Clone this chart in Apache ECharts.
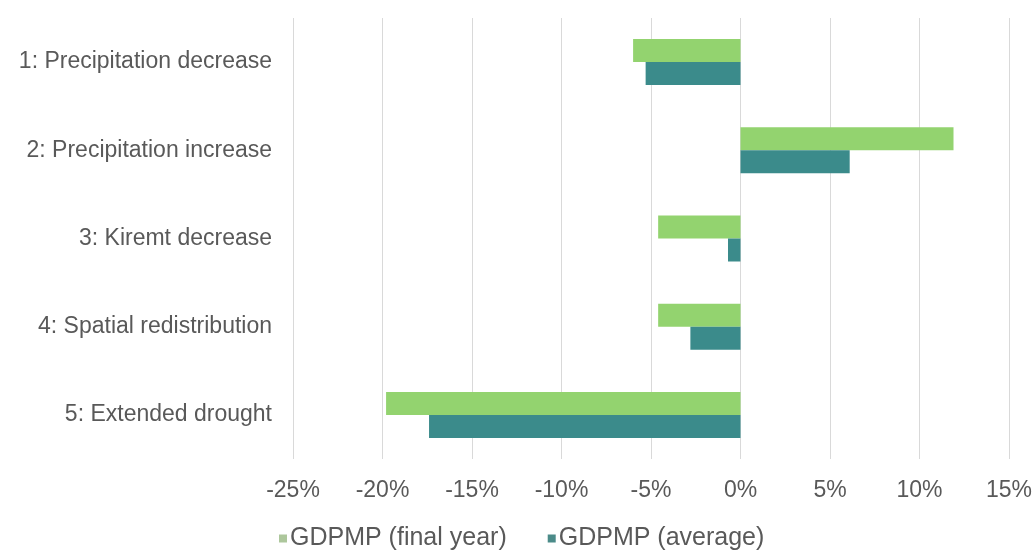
<!DOCTYPE html>
<html>
<head>
<meta charset="utf-8">
<script src="https://cdn.jsdelivr.net/npm/echarts@6/dist/echarts.min.js"></script>
<style>
  html, body { margin: 0; padding: 0; background: #ffffff; }
  #chart { width: 1036px; height: 550px; }
</style>
</head>
<body>
<div id="chart"></div>
<script>
// Scenario names, listed top to bottom
const scenarios = [
  '1: Precipitation decrease',
  '2: Precipitation increase',
  '3: Kiremt decrease',
  '4: Spatial redistribution',
  '5: Extended drought'
];
// Change in GDP at market prices, percent
const finalYear = [-6.0, 11.9, -4.6, -4.6, -19.8];
const average = [-5.3, 6.1, -0.7, -2.8, -17.4];
const seriesNames = ['GDPMP (final year)', 'GDPMP (average)'];

const textColor = '#595959';
const font = 'Liberation Sans, Arial, sans-serif';
const greenBar = '#93d36f';
const tealBar = '#3b8b8b';

const chart = echarts.init(document.getElementById('chart'), null, { renderer: 'canvas' });
chart.setOption({
  backgroundColor: '#ffffff',
  animation: false,
  grid: { left: 293, right: 27, top: 18, bottom: 91, containLabel: false },
  legend: {
    bottom: -1,
    left: 279,
    padding: 0,
    itemWidth: 8,
    itemHeight: 8,
    itemGap: 41,
    icon: 'rect',
    textStyle: { color: textColor, fontSize: 25, fontFamily: font, padding: [0, 0, 0, -2] },
    data: [
      { name: seriesNames[0], itemStyle: { color: '#adc79c' } },
      { name: seriesNames[1], itemStyle: { color: '#4b8b89' } }
    ]
  },
  xAxis: {
    type: 'value',
    min: -25,
    max: 15,
    interval: 5,
    axisLine: { show: false },
    axisTick: { show: false },
    splitLine: { show: true, lineStyle: { color: '#d9d9d9', width: 1 } },
    axisLabel: {
      color: textColor, fontSize: 23, fontFamily: font, margin: 20,
      formatter: v => v + '%'
    }
  },
  yAxis: {
    type: 'category',
    inverse: true,
    data: scenarios,
    axisLine: { show: false },
    axisTick: { show: false },
    splitLine: { show: false },
    axisLabel: { color: textColor, fontSize: 23, fontFamily: font, margin: 21 }
  },
  series: [
    {
      name: seriesNames[0],
      type: 'bar',
      data: finalYear,
      barWidth: 23,
      barGap: '0%',
      itemStyle: { color: greenBar }
    },
    {
      name: seriesNames[1],
      type: 'bar',
      data: average,
      barWidth: 23,
      barGap: '0%',
      itemStyle: { color: tealBar }
    }
  ]
});
</script>
</body>
</html>
